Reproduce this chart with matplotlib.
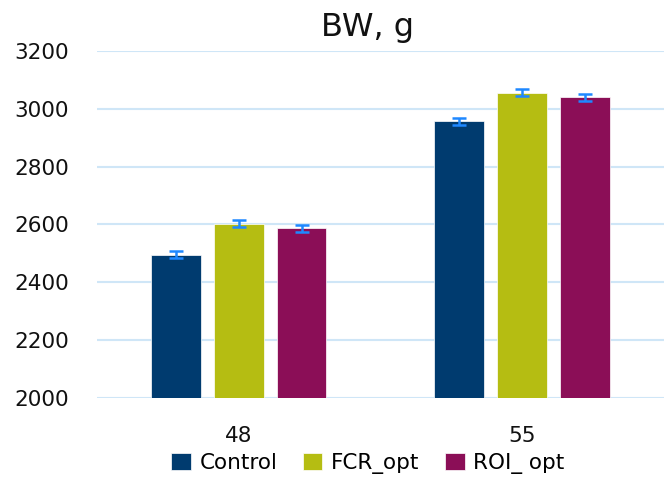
import matplotlib
matplotlib.use("Agg")
import matplotlib.pyplot as plt
import numpy as np

categories = ["48", "55"]
series_names = ["Control", "FCR_opt", "ROI_ opt"]
control = [2495, 2957]
fcr_opt = [2602, 3056]
roi_opt = [2586, 3040]
errors = [[12, 12], [12, 12], [12, 12]]
colors = ["#003B6F", "#B5BD12", "#8B0E57"]

plt.rcParams['font.family'] = ['DejaVu Sans']

fig = plt.figure(figsize=(6.64, 4.8), dpi=100)
ax = fig.add_axes([0.146, 0.171, 0.854, 0.723])

x = np.arange(len(categories))
width = 0.175
step = 0.222
values = [control, fcr_opt, roi_opt]
for i, (name, vals, col, err) in enumerate(zip(series_names, values, colors, errors)):
    ax.bar(x + (i - 1) * step, vals, width, color=col, label=name, zorder=3,
           edgecolor='white', linewidth=0.5)
    ax.errorbar(x + (i - 1) * step, vals, yerr=err, fmt='none', ecolor='#1E88FF',
                elinewidth=1.8, capsize=5, capthick=1.8, zorder=4)

ax.set_ylim(2000, 3200)
ax.set_xlim(-0.5, 1.5)
ax.set_yticks(np.arange(2000, 3201, 200))
ax.set_xticks(x)
ax.set_xticklabels(categories)
ax.yaxis.grid(True, color='#CFE6F7', linewidth=1.5, zorder=0)
ax.set_axisbelow(True)
for s in ax.spines.values():
    s.set_visible(False)
ax.tick_params(axis='both', length=0, labelsize=15.5, colors='#111111')
ax.tick_params(axis='y', pad=20)
ax.tick_params(axis='x', pad=20)

fig.text(0.553, 0.942, "BW, g", ha='center', va='center', fontsize=23, color='#111111')
fig.legend(*ax.get_legend_handles_labels(), loc='center', bbox_to_anchor=(0.554, 0.035),
           ncol=3, frameon=False, fontsize=15.5, handlelength=0.9, handleheight=0.9,
           handletextpad=0.4, columnspacing=1.2, borderaxespad=0)

fig.savefig("out.png", dpi=100)
